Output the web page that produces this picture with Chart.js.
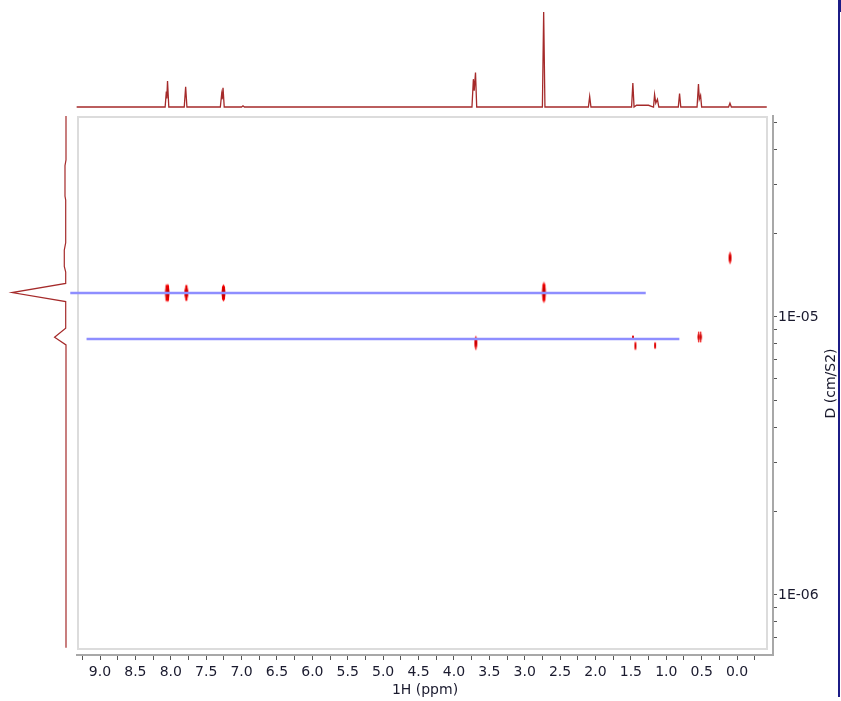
<!DOCTYPE html>
<html>
<head>
<meta charset="utf-8">
<script src="https://cdn.jsdelivr.net/npm/chart.js@4.4.1/dist/chart.umd.min.js"></script>
<style>
html,body{margin:0;padding:0;background:#fff;overflow:hidden;}
#wrap{position:relative;width:841px;height:701px;}
#wrap canvas{position:absolute;left:0;top:0;}
.edge{position:absolute;background:#1c1c86;}
</style>
</head>
<body>
<div id="wrap">
  <canvas id="main" width="841" height="701"></canvas>
  <canvas id="topSpec" width="841" height="116"></canvas>
  <canvas id="sideSpec" width="77" height="701"></canvas>
  <div class="edge" style="left:838px;top:0;width:3px;height:12px"></div>
  <div class="edge" style="left:838px;top:0;width:2px;height:697px"></div>
</div>
<script>
// ---------------- axis ranges ----------------
const ppmMin = -0.508, ppmMax = 9.325;      // 1H axis (drawn reversed)
const dMin = 6.08e-7, dMax = 5.28e-5;       // diffusion axis (log)

// ---------------- tick values / labels ----------------
const xTicks = [9.25, 9.0, 8.75, 8.5, 8.25, 8.0, 7.75, 7.5, 7.25, 7.0, 6.75, 6.5, 6.25, 6.0, 5.75, 5.5, 5.25, 5.0,
  4.75, 4.5, 4.25, 4.0, 3.75, 3.5, 3.25, 3.0, 2.75, 2.5, 2.25, 2.0, 1.75, 1.5, 1.25, 1.0, 0.75, 0.5, 0.25, 0.0, -0.25];
const xTickLabels = ['', '9.0', '', '8.5', '', '8.0', '', '7.5', '', '7.0', '', '6.5', '', '6.0', '', '5.5', '', '5.0',
  '', '4.5', '', '4.0', '', '3.5', '', '3.0', '', '2.5', '', '2.0', '', '1.5', '', '1.0', '', '0.5', '', '0.0', ''];
const yTicks = [7e-7, 8e-7, 9e-7, 1e-6, 2e-6, 3e-6, 4e-6, 5e-6, 6e-6, 7e-6, 8e-6, 9e-6, 1e-5, 2e-5, 3e-5, 4e-5, 5e-5];
const yTickLabels = ['', '', '', '1E-06', '', '', '', '', '', '', '', '', '1E-05', '', '', '', ''];

// ---------------- diffusion lines ----------------
const line1Ppm = [9.42, 1.29];
const line1D = [1.22e-5, 1.22e-5];
const line2Ppm = [9.19, 0.815];
const line2D = [8.33e-6, 8.33e-6];

// ---------------- DOSY cross peaks ----------------
const peakPpm = [8.06, 8.04, 7.78, 7.256, 2.729, 0.099, 3.69, 1.47, 1.436, 1.158, 0.541, 0.513];
const peakD = [1.22e-5, 1.22e-5, 1.22e-5, 1.22e-5, 1.225e-5, 1.63e-5, 8.06e-6, 8.47e-6, 7.87e-6, 7.89e-6, 8.47e-6, 8.47e-6];
// spot drawing style (px)
const spotW = [3.5, 3.5, 4, 4.5, 4.5, 3, 3, 2, 2, 2, 2.5, 2.5];
const spotH = [19, 19, 18, 18, 22, 13, 15, 4, 10, 8, 12, 12];

// ---------------- 1H projection (top) ----------------
const topPpm = [9.33, 8.08, 8.063, 8.056, 8.046, 8.028, 7.81, 7.79, 7.772, 7.30, 7.282, 7.274, 7.262, 7.245,
  7.00, 6.98, 6.96, 3.745, 3.725, 3.713, 3.695, 3.678, 2.75, 2.732, 2.714, 2.10, 2.082, 2.064,
  1.49, 1.472, 1.455, 1.42, 1.25, 1.20, 1.18, 1.165, 1.148, 1.125, 1.105, 0.83, 0.812, 0.795,
  0.565, 0.545, 0.533, 0.515, 0.50, 0.12, 0.10, 0.08, -0.42];
const topInt = [0, 0, 16, 9, 27, 0, 0, 21, 0, 0, 13, 8, 20, 0,
  0, 1.2, 0, 0, 29, 17, 36, 0, 0, 99, 0, 0, 11, 0,
  0, 25, 0, 1.8, 1.8, 0.5, 0, 13, 4, 8, 0, 0, 14, 0,
  0, 24, 8, 12, 0, 0, 4, 0, 0];

// ---------------- diffusion projection (left) ----------------
const sideD = [5.28e-5, 3.67e-5, 3.50e-5, 2.72e-5, 2.63e-5, 1.85e-5, 1.74e-5, 1.52e-5, 1.45e-5, 1.32e-5,
  1.223e-5, 1.135e-5, 9.11e-6, 8.45e-6, 7.93e-6, 6.45e-7];
const sideInt = [0, 0, 1, 1, 0.3, 0.3, 1.7, 1.7, 0.3, 0.3, 53.7, 0.3, 0.3, 11.4, 0, 0];

// ================= rendering =================
Chart.defaults.font.family = "'DejaVu Sans', Verdana, sans-serif";
Chart.defaults.font.size = 14;
const textColor = '#1a1a2e';
const specColor = '#a52a2a';

function makeSpot(w, h) {
  const c = document.createElement('canvas');
  c.width = Math.ceil(w) + 2;
  c.height = Math.ceil(h) + 2;
  const g = c.getContext('2d');
  g.translate(c.width / 2, c.height / 2);
  g.scale(w / 2, h / 2);
  const grad = g.createRadialGradient(0, 0, 0, 0, 0, 1);
  grad.addColorStop(0, '#a80000');
  grad.addColorStop(0.45, '#d00000');
  grad.addColorStop(0.8, '#f40000');
  grad.addColorStop(1, 'rgba(255,40,40,0.3)');
  g.fillStyle = grad;
  g.beginPath();
  g.arc(0, 0, 1, 0, Math.PI * 2);
  g.fill();
  return c;
}
const spotImgs = spotW.map((w, i) => makeSpot(w, spotH[i]));

const framePlugin = {
  id: 'frame',
  beforeDatasetsDraw(chart) {
    const a = chart.chartArea, ctx = chart.ctx;
    ctx.save();
    ctx.strokeStyle = '#dcdcdc';
    ctx.lineWidth = 2;
    ctx.strokeRect(a.left + 1, a.top + 1, a.right - a.left - 7, a.bottom - a.top - 7);
    ctx.restore();
  }
};
const yTitlePlugin = {
  id: 'ytitle',
  afterDraw(chart) {
    const s = chart.scales.y, a = chart.chartArea, ctx = chart.ctx;
    ctx.save();
    ctx.translate(s.right - 10, (a.top + a.bottom) / 2 - 2);
    ctx.rotate(-Math.PI / 2);
    ctx.font = "14px 'DejaVu Sans'";
    ctx.fillStyle = textColor;
    ctx.textAlign = 'center';
    ctx.textBaseline = 'middle';
    ctx.fillText('D (cm/S2)', 0, 0);
    ctx.restore();
  }
};

new Chart(document.getElementById('main'), {
  type: 'scatter',
  data: {
    datasets: [
      { type: 'line', data: line1Ppm.map((x, i) => ({ x, y: line1D[i] })), borderColor: '#8e8eff',
        borderWidth: 2.5, pointRadius: 0, clip: false, order: 0 },
      { type: 'line', data: line2Ppm.map((x, i) => ({ x, y: line2D[i] })), borderColor: '#8e8eff',
        borderWidth: 2.5, pointRadius: 0, clip: false, order: 0 },
      { type: 'scatter', data: peakPpm.map((x, i) => ({ x, y: peakD[i] })),
        pointStyle: (c) => spotImgs[c.dataIndex], pointRadius: 3, order: 1 }
    ]
  },
  options: {
    responsive: false,
    animation: false,
    events: [],
    layout: { padding: { left: 77, top: 116, right: 0, bottom: 0 } },
    plugins: { legend: { display: false }, tooltip: { enabled: false } },
    scales: {
      x: {
        type: 'linear', position: 'bottom', reverse: true, min: ppmMin, max: ppmMax,
        afterBuildTicks: (s) => { s.ticks = xTicks.map(v => ({ value: v })); },
        afterFit: (s) => { s.height = 46; },
        ticks: { autoSkip: false, maxRotation: 0, minRotation: 0, padding: 4, color: textColor,
          callback: (v, i) => xTickLabels[i] },
        grid: { drawOnChartArea: false, drawTicks: true, tickLength: 5, tickColor: '#555', tickWidth: 1 },
        border: { display: true, color: '#a8a8a8', width: 2 },
        title: { display: true, text: '1H (ppm)', color: textColor, padding: { top: 0, bottom: 2 },
          font: { size: 14 } }
      },
      y: {
        type: 'logarithmic', position: 'right', min: dMin, max: dMax,
        afterBuildTicks: (s) => { s.ticks = yTicks.map(v => ({ value: v })); },
        afterFit: (s) => { s.width = 68; },
        ticks: { autoSkip: false, padding: 1, color: textColor, callback: (v, i) => yTickLabels[i] },
        grid: { drawOnChartArea: false, drawTicks: true, tickLength: 4, tickColor: '#555', tickWidth: 1 },
        border: { display: true, color: '#a8a8a8', width: 2 },
        title: { display: false }
      }
    }
  },
  plugins: [framePlugin, yTitlePlugin]
});

new Chart(document.getElementById('topSpec'), {
  type: 'line',
  data: { datasets: [{ data: topPpm.map((x, i) => ({ x, y: topInt[i] })), borderColor: specColor,
    borderWidth: 1.3, pointRadius: 0, tension: 0, clip: false }] },
  options: {
    responsive: false, animation: false, events: [],
    layout: { padding: { left: 77, right: 68, top: 12, bottom: 9 } },
    plugins: { legend: { display: false }, tooltip: { enabled: false } },
    scales: {
      x: { type: 'linear', display: false, reverse: true, min: ppmMin, max: ppmMax },
      y: { type: 'linear', display: false, min: 0, max: 99 }
    }
  }
});

new Chart(document.getElementById('sideSpec'), {
  type: 'line',
  data: { datasets: [{ data: sideD.map((d, i) => ({ x: sideInt[i], y: d })), borderColor: specColor,
    borderWidth: 1.2, pointRadius: 0, tension: 0, clip: false }] },
  options: {
    indexAxis: 'y',
    responsive: false, animation: false, events: [],
    layout: { padding: { left: 12, right: 11, top: 116, bottom: 46 } },
    plugins: { legend: { display: false }, tooltip: { enabled: false } },
    scales: {
      x: { type: 'linear', display: false, reverse: true, min: 0, max: 53.7 },
      y: { type: 'logarithmic', display: false, min: dMin, max: dMax }
    }
  }
});
</script>
</body>
</html>
